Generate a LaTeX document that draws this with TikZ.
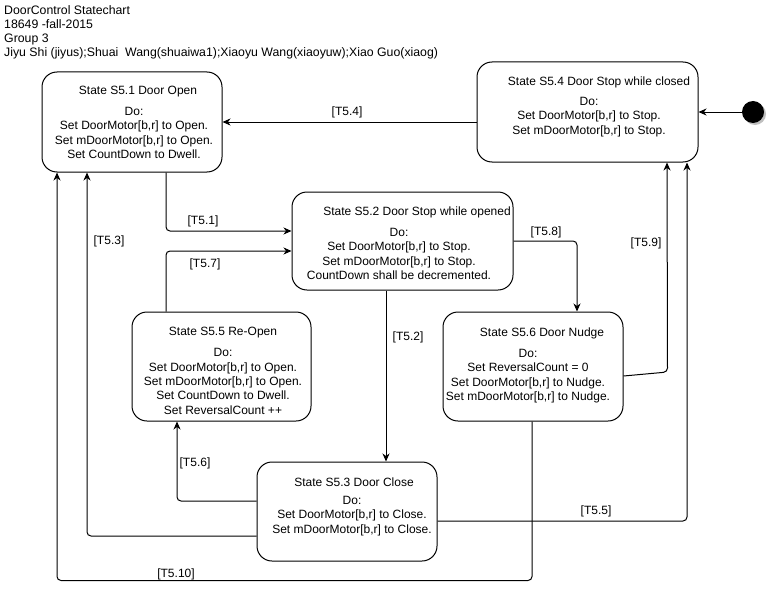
\documentclass[tikz,border=0pt]{standalone}
\usepackage{fontspec}
\setmainfont{Liberation Sans}
\usetikzlibrary{arrows.meta}
\begin{document}
\begin{tikzpicture}[x=1pt,y=-1pt,
  box/.style={draw, line width=1pt, rounded corners=15pt, inner sep=0pt},
  ttl/.style={font=\fontsize{12}{14}\selectfont, inner sep=0pt},
  body/.style={font=\fontsize{12}{14.4}\selectfont, align=center, inner sep=0pt},
  lbl/.style={font=\fontsize{12}{14}\selectfont, inner sep=0pt},
  arr/.style={line width=1pt, rounded corners=4pt, -{Stealth[length=8pt,width=7pt,inset=2.5pt]}}]
\useasboundingbox (0,0) rectangle (767,591);
\fill[white] (0,0) rectangle (767,591);
% header
\node[anchor=north west, align=left, inner sep=0pt, font=\fontsize{12.3}{14}\selectfont] (hdr) at (4,5.5)
 {DoorControl Statechart\\18649 -fall-2015\\Group 3\\Jiyu Shi (jiyus);Shuai~ Wang(shuaiwa1);Xiaoyu Wang(xiaoyuw);Xiao Guo(xiaog)};
% boxes
\node[box, minimum width=180pt, minimum height=100pt] (s51) at (132,122) {};
\node[box, minimum width=221pt, minimum height=100pt] (s54) at (587.5,112) {};
\node[box, minimum width=221pt, minimum height=98pt] (s52) at (402.5,241) {};
\node[box, minimum width=180pt, minimum height=109pt] (s56) at (533,366.5) {};
\node[box, minimum width=179pt, minimum height=109pt] (s55) at (221.5,366.5) {};
\node[box, minimum width=180pt, minimum height=99pt] (s53) at (347,511.5) {};
% titles
\node[ttl] (t51) at (138,92) {State S5.1 Door Open};
\node[ttl] (t54) at (599,82) {State S5.4 Door Stop while closed};
\node[ttl] (t52) at (417,212) {State S5.2 Door Stop while opened};
\node[ttl] (t55) at (223,333) {State S5.5 Re-Open};
\node[ttl] (t56) at (542,333) {State S5.6 Door Nudge};
\node[ttl] (t53) at (354,482) {State S5.3 Door Close};
% bodies
\node[body] (b51) at (134,133) {Do:\\Set DoorMotor[b,r] to Open.\\Set mDoorMotor[b,r] to Open.\\Set CountDown to Dwell.};
\node[body] (b54) at (589,117) {Do:\\Set DoorMotor[b,r] to Stop.\\Set mDoorMotor[b,r] to Stop.};
\node[body] (b52) at (399,254) {Do:\\Set DoorMotor[b,r] to Stop.\\Set mDoorMotor[b,r] to Stop.\\CountDown shall be decremented.};
\node[body] (b55) at (223,381.5) {Do:\\Set DoorMotor[b,r] to Open.\\Set mDoorMotor[b,r] to Open.\\Set CountDown to Dwell.\\Set ReversalCount ++};
\node[body] (b56) at (528,376) {Do:\\Set ReversalCount = 0\\Set DoorMotor[b,r] to Nudge.\\Set mDoorMotor[b,r] to Nudge.};
\node[body] (b53) at (352,516) {Do:\\Set DoorMotor[b,r] to Close.\\Set mDoorMotor[b,r] to Close.};
% initial state
\fill[black!25] (755,114) circle (11);
\node[circle, fill=black, minimum size=22pt, inner sep=0pt] (init) at (753,112) {};
% connectors
\draw[arr] (init) -- (s54.east);
\draw[arr] ([yshift=-10pt]s54.west) -- (s51.east);
\draw[arr] ([xshift=34pt]s51.south) |- ([yshift=10pt]s52.west);
\draw[arr] ([xshift=-55.5pt]s55.north) |- ([yshift=-10pt]s52.west);
\draw[arr] ([yshift=-24.5pt]s53.west) -| ([xshift=-45pt]s51.south);
\draw[arr] ([xshift=-1pt]s56.south) -- ++(0,159) -| ([xshift=-75pt]s51.south);
\draw[arr] ([yshift=10.5pt]s53.west) -| ([xshift=-44.5pt]s55.south);
\draw[arr] ([xshift=-16.5pt]s52.south) -- ([xshift=39pt]s53.north);
\draw[arr] (s52.east) -| ([xshift=44pt]s56.north);
\draw[arr] ([yshift=-9.5pt]s56.east) -- ++(44,-4) -- ([xshift=79.5pt]s54.south);
\draw[arr] ([yshift=-9.5pt]s53.east) -| ([xshift=99.5pt]s54.south);
% labels
\node[lbl] (l54) at (347,112) {[T5.4]};
\node[lbl] (l51) at (203,221) {[T5.1]};
\node[lbl] (l57) at (205,264) {[T5.7]};
\node[lbl] (l53) at (109,241) {[T5.3]};
\node[lbl] (l510) at (176,574) {[T5.10]};
\node[lbl] (l56) at (195,463) {[T5.6]};
\node[lbl] (l52) at (408,337) {[T5.2]};
\node[lbl] (l58) at (546,232) {[T5.8]};
\node[lbl] (l59) at (646,243) {[T5.9]};
\node[lbl] (l55) at (596,511) {[T5.5]};
\end{tikzpicture}
\end{document}
